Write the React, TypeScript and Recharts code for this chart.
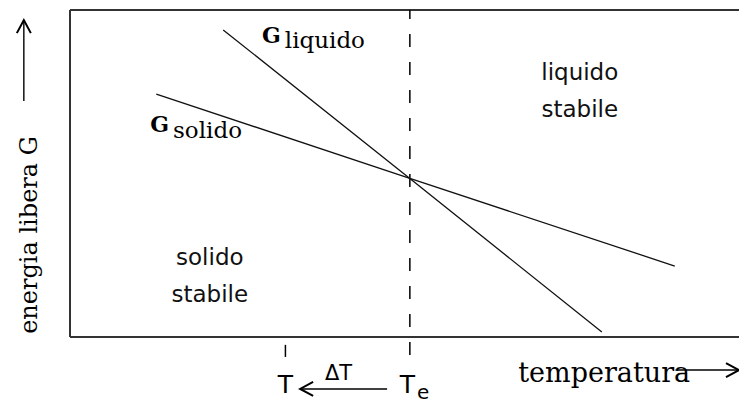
import React from 'react'
import { LineChart, Line, XAxis, YAxis, ReferenceLine, ReferenceDot } from 'recharts'

// free energy curves (temperature, G) in arbitrary 0-100 units
const liquidoT = [22.9, 50.8, 79.5]
const liquidoG = [93.9, 48.5, 1.5]
const solidoT = [12.9, 50.8, 90.4]
const solidoG = [74.3, 48.5, 21.7]
const Te = 50.8
const Tu = 32.2

const liquido = liquidoT.map((t, i) => ({ t, g: liquidoG[i] }))
const solido = solidoT.map((t, i) => ({ t, g: solidoG[i] }))

const SERIF = '"DejaVu Serif", serif'
const SANS = '"DejaVu Sans", sans-serif'

function arrowShape(p: any) {
  const { x1, y1, x2, y2 } = p
  const a = Math.atan2(y2 - y1, x2 - x1)
  const L = 13
  const W = 7
  const bx = x2 - L * Math.cos(a)
  const by = y2 - L * Math.sin(a)
  const nx = -Math.sin(a)
  const ny = Math.cos(a)
  return (
    <g>
      <line x1={x1} y1={y1} x2={x2} y2={y2} stroke="#000" strokeWidth={1.4} />
      <path
        d={`M${bx + nx * W},${by + ny * W} L${x2},${y2} L${bx - nx * W},${by - ny * W}`}
        fill="none"
        stroke="#000"
        strokeWidth={2}
      />
    </g>
  )
}

function note(key: string, x: number, y: number, render: (px: number, py: number) => React.ReactNode) {
  return (
    <ReferenceDot
      key={key}
      x={x}
      y={y}
      r={0}
      fill="none"
      stroke="none"
      ifOverflow="visible"
      label={(p: any) => render(p.viewBox.x, p.viewBox.y)}
    />
  )
}

export default function App() {
  return (
    <div style={{ position: 'absolute', left: 0, top: 0, background: '#fff' }}>
      <LineChart width={739} height={403} margin={{ top: 10, right: 0, bottom: 66, left: 70 }}>
        <XAxis type="number" dataKey="t" domain={[0, 100]} hide allowDataOverflow />
        <YAxis type="number" domain={[0, 100]} hide allowDataOverflow />

        {/* frame */}
        <ReferenceLine y={0} stroke="#333" strokeWidth={2} />
        <ReferenceLine y={100} stroke="#333" strokeWidth={2} />
        <ReferenceLine x={0} stroke="#333" strokeWidth={2} />

        {/* equilibrium temperature and undercooling */}
        <ReferenceLine
          segment={[{ x: Te, y: -5.5 }, { x: Te, y: 100 }]}
          stroke="#000"
          strokeWidth={1.5}
          strokeDasharray="13 15"
          ifOverflow="visible"
        />
        <ReferenceLine
          segment={[{ x: Tu, y: -2.4 }, { x: Tu, y: -6.1 }]}
          stroke="#000"
          strokeWidth={1.5}
          ifOverflow="visible"
        />
        <ReferenceLine
          segment={[{ x: 47.4, y: -15.9 }, { x: 34.4, y: -15.9 }]}
          ifOverflow="visible"
          shape={arrowShape}
        />

        {/* axis arrows */}
        <ReferenceLine
          segment={[{ x: -6.9, y: 72.2 }, { x: -6.9, y: 96.9 }]}
          ifOverflow="visible"
          shape={arrowShape}
        />
        <ReferenceLine
          segment={[{ x: 90.5, y: -10.1 }, { x: 100, y: -10.1 }]}
          ifOverflow="visible"
          shape={arrowShape}
        />

        <Line data={liquido} dataKey="g" type="linear" stroke="#111" strokeWidth={1.3} dot={false} isAnimationActive={false} />
        <Line data={solido} dataKey="g" type="linear" stroke="#111" strokeWidth={1.3} dot={false} isAnimationActive={false} />

        {note('gl', 28.7, 89.9, (x, y) => (
          <text x={x} y={y} fill="#000" fontFamily={SERIF}>
            <tspan fontWeight="bold" fontSize={22}>G</tspan>
            <tspan dx={4} dy={5} fontSize={23}>liquido</tspan>
          </text>
        ))}
        {note('gs', 12.0, 62.7, (x, y) => (
          <text x={x} y={y} fill="#000" fontFamily={SERIF}>
            <tspan fontWeight="bold" fontSize={22}>G</tspan>
            <tspan dx={4} dy={6} fontSize={23}>solido</tspan>
          </text>
        ))}
        {note('ls', 76.2, 78.6, (x, y) => (
          <text x={x} y={y} fill="#111" fontFamily={SANS} fontSize={23} textAnchor="middle">
            <tspan x={x}>liquido</tspan>
            <tspan x={x} dy={37}>stabile</tspan>
          </text>
        ))}
        {note('ss', 20.9, 22.0, (x, y) => (
          <text x={x} y={y} fill="#111" fontFamily={SANS} fontSize={23} textAnchor="middle">
            <tspan x={x}>solido</tspan>
            <tspan x={x} dy={37}>stabile</tspan>
          </text>
        ))}
        {note('t', Tu, -17.1, (x, y) => (
          <text x={x} y={y} fill="#000" fontFamily={SANS} fontSize={25} textAnchor="middle">T</text>
        ))}
        {note('dt', 38.1, -13.1, (x, y) => (
          <text x={x} y={y} fill="#000" fontFamily={SANS} fontSize={21}>ΔT</text>
        ))}
        {note('te', 49.3, -17.1, (x, y) => (
          <text x={x} y={y} fill="#000" fontFamily={SANS} fontSize={25}>
            T<tspan dx={2} dy={6} fontSize={20}>e</tspan>
          </text>
        ))}
        {note('xl', 67.0, -13.8, (x, y) => (
          <text x={x} y={y} fill="#000" fontFamily={SERIF} fontSize={27}>temperatura</text>
        ))}
        {note('yl', -4.9, 31.2, (x, y) => (
          <text x={x} y={y} fill="#000" fontFamily={SERIF} fontSize={24} textAnchor="middle" transform={`rotate(-90 ${x} ${y})`}>
            energia libera G
          </text>
        ))}
      </LineChart>
    </div>
  )
}
